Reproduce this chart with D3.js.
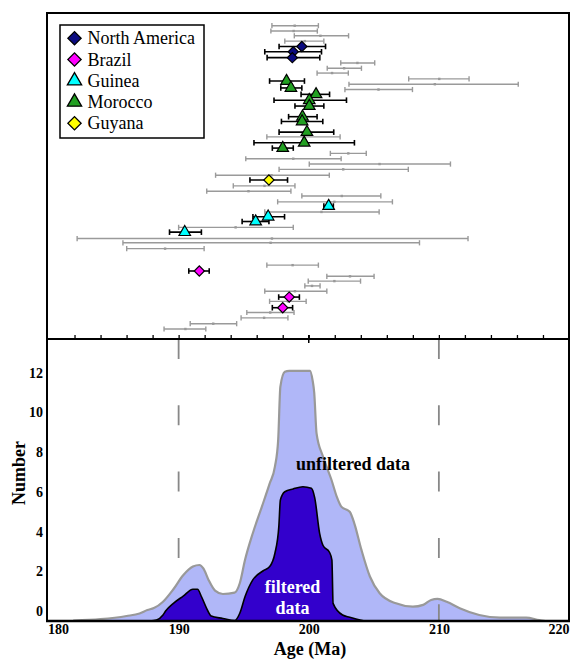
<!DOCTYPE html>
<html><head><meta charset="utf-8">
<script src="https://cdn.jsdelivr.net/npm/d3@7"></script>
<style>
html,body{margin:0;padding:0;background:#fff;}
svg{display:block;}
text{font-family:"Liberation Serif","Times New Roman",serif;}
</style></head>
<body>
<svg id="chart" width="570" height="659"></svg>
<script>
// ---------- DATA ----------
// Top panel: gray (unfiltered) age determinations: [row, low, centre, high] (Ma)
const grayRows = [
  [0,197.17,198.92,200.74],[1,197.09,198.84,200.66],[1.9,198.89,200.9,203.06],[2.9,198.16,199.7,201.16],
  [7,202.46,203.74,205.07],[8,201.42,202.72,204.05],[8.9,200.64,201.79,203.04],[10,207.68,210.03,212.32],
  [11,203.09,209.69,216.1],[12,202.78,205.36,207.97],[20.9,196.78,199.6,202.41],[24,201.66,203.04,204.42],
  [25,195.16,198.81,202.49],[26,200.04,205.44,210.89],[27,197.72,202.65,207.65],[28.1,192.84,197.14,201.58],
  [30.1,194.2,196.6,198.94],[31.1,192.16,195.37,198.63],[32,199.47,202.54,205.54],[33.1,197.61,201.97,206.43],
  [35,196.62,200.98,205.41],[37.9,190.0,194.38,198.81],[40,182.2,197.17,212.24],[40.8,185.72,197.07,208.51],
  [41.9,186.01,188.96,191.96],[45,196.78,198.76,200.74],[47.1,201.39,203.17,205.02],[48,199.96,201.97,203.98],
  [48.9,199.7,200.25,200.87],[49.9,196.62,198.94,201.39],[51.8,196.99,198.4,199.8],[53.9,195.24,197.04,198.87],
  [54.9,194.8,196.57,198.4],[56,190.89,192.66,194.46],[57,188.88,190.52,192.09]
];
// Filtered determinations by region: [row, low, centre, high]
const northAmerica = [[3.9,197.72,199.47,201.29],[4.9,196.62,198.81,200.98],[6.0,196.8,198.74,200.85]];
const morocco = [[10.4,196.99,198.29,199.67],[11.7,197.85,198.63,199.47],[12.9,199.41,200.56,201.6],
  [14.0,197.33,200.04,202.9],[15.1,198.94,200.04,201.16],[17.1,198.45,199.52,200.64],[18.0,197.9,199.49,201.08],
  [20.0,197.72,199.86,201.92],[22.0,195.79,199.65,203.51],[23.0,197.2,198.0,198.81]];
const guyana = [[29.0,195.48,196.94,198.37]];
const guinea = [[33.9,201.16,201.53,201.89],[35.9,195.71,196.88,198.14],[36.8,194.88,195.92,196.94],[38.8,189.3,190.47,191.75]];
const brazil = [[46.1,190.78,191.59,192.35],[51.0,197.69,198.5,199.28],[53.0,197.2,198.0,198.76]];

const legendNames = ["North America","Brazil","Guinea","Morocco","Guyana"];
const legendShapes = ["diamond","diamond","triangle","triangle","diamond"];
const legendColors = ["#0b0b80","#ff00ff","#00ffff","#22a022","#ffff00"];

// Bottom panel: probability curves [age (Ma), number]
const unfilteredAge = [181.9,184.0,186.0,187.0,187.6,188.1,188.8,189.6,190.35,191.1,191.6,191.9,192.3,192.8,193.4,194.3,194.7,195.1,195.7,196.4,197.0,197.4,197.65,197.82,198.16,198.5,200.1,200.3,200.42,200.6,201.1,201.75,202.15,202.5,203.15,203.5,204.05,204.7,205.45,206.7,208.0,208.8,209.4,209.9,210.6,211.6,213.1,214.7,216.7,217.7,218.2];
const unfilteredNum = [-0.48,-0.41,-0.25,-0.12,0.05,0.15,0.47,1.1,1.8,2.24,2.32,2.15,1.57,1.03,0.86,0.93,1.4,2.57,3.92,5.26,6.43,7.27,8.61,11.3,12.05,12.1,12.1,11.6,11.0,8.95,7.77,6.6,5.76,5.26,5.0,4.42,3.08,1.74,0.9,0.39,0.22,0.31,0.56,0.61,0.47,0.14,-0.2,-0.33,-0.33,-0.45,-0.5];
const filteredAge = [187.8,188.3,188.8,189.0,189.6,190.35,191.1,191.45,191.76,192.15,192.5,193.4,194.3,194.7,195.1,195.7,196.5,197.0,197.4,197.7,197.82,198.16,198.8,199.55,200.2,200.46,200.84,201.1,201.6,201.78,201.87,202.6,203.15,204.3];
const filteredNum = [-0.5,-0.45,-0.2,0.0,0.39,0.75,1.1,1.1,0.72,0.14,-0.25,-0.37,-0.48,-0.11,0.72,1.57,2.03,2.24,2.91,4.25,5.59,6.01,6.15,6.26,6.18,5.7,3.9,3.3,2.95,2.57,0.39,-0.2,-0.31,-0.5];

const xTicks = [180,190,200,210,220];
const yTicks = [0,2,4,6,8,10,12];
const refLines = [190,210];
const minorTicks = d3.range(182,219,2);

// ---------- LAYOUT ----------
const svg = d3.select("#chart");
const L = 47, R = 569, topY = 13, midY = 339, botY = 621;
const x = d3.scaleLinear().domain([180,220]).range([48.5,569]);
const yRow = d3.scaleLinear().domain([0,57]).range([25.7,329]);
const y = d3.scaleLinear().domain([-0.5,13.7]).range([botY,midY]);

// ---------- BOTTOM PANEL ----------
const uData = unfilteredAge.map((a,i)=>[a,unfilteredNum[i]]);
const fData = filteredAge.map((a,i)=>[a,filteredNum[i]]);
const area = d3.area().x(d=>x(d[0])).y0(y(-0.5)).y1(d=>y(d[1])).curve(d3.curveMonotoneX);
const line = d3.line().x(d=>x(d[0])).y(d=>y(d[1])).curve(d3.curveMonotoneX);

svg.append("path").attr("d",area(uData)).attr("fill","#b0b7f8");
svg.append("path").attr("d",line(uData)).attr("fill","none").attr("stroke","#999").attr("stroke-width",2.2);

svg.selectAll(".ref").data(refLines).enter().append("line")
  .attr("x1",d=>x(d)).attr("x2",d=>x(d)).attr("y1",midY).attr("y2",botY)
  .attr("stroke","#888").attr("stroke-width",1.8).attr("stroke-dasharray","20,46.3");

svg.append("path").attr("d",area(fData)).attr("fill","#3300cc");
svg.append("path").attr("d",line(fData)).attr("fill","none").attr("stroke","#000").attr("stroke-width",1.6);

svg.append("text").attr("x",353).attr("y",469.5).attr("text-anchor","middle")
  .attr("font-weight","bold").attr("font-size",18).attr("fill","#000").text("unfiltered data");
svg.append("text").attr("x",292.5).attr("y",592.5).attr("text-anchor","middle")
  .attr("font-weight","bold").attr("font-size",18).attr("fill","#fff").text("filtered");
svg.append("text").attr("x",292.5).attr("y",613.5).attr("text-anchor","middle")
  .attr("font-weight","bold").attr("font-size",18).attr("fill","#fff").text("data");

// axes
const yAxis = svg.append("g").attr("transform",`translate(${L},0)`)
  .call(d3.axisLeft(y).tickValues(yTicks).tickSize(0).tickPadding(4));
yAxis.select(".domain").remove();
yAxis.selectAll("text").attr("font-family","Liberation Serif, serif").attr("font-weight","bold").attr("font-size",14).attr("fill","#000");

const xAxis = svg.append("g").attr("transform",`translate(0,${botY})`)
  .call(d3.axisBottom(x).tickValues(xTicks).tickSize(0).tickPadding(2));
xAxis.select(".domain").remove();
xAxis.selectAll("text").attr("font-family","Liberation Serif, serif").attr("font-weight","bold").attr("font-size",14).attr("fill","#000")
  .attr("dy","0.78em")
  .attr("text-anchor",d=>d===180?"start":(d===220?"end":"middle"))
  .attr("dx",d=>d===180?-1:0);

svg.append("text").attr("x",310).attr("y",654.5).attr("text-anchor","middle")
  .attr("font-weight","bold").attr("font-size",18).text("Age (Ma)");
svg.append("text").attr("transform","translate(25,473) rotate(-90)").attr("text-anchor","middle")
  .attr("font-weight","bold").attr("font-size",18).text("Number");

// bottom panel frame
svg.append("line").attr("x1",L).attr("x2",L).attr("y1",midY).attr("y2",botY).attr("stroke","#000").attr("stroke-width",2);
svg.append("line").attr("x1",R).attr("x2",R).attr("y1",midY).attr("y2",botY).attr("stroke","#000").attr("stroke-width",2);
svg.append("line").attr("x1",L-1).attr("x2",R+1).attr("y1",botY).attr("y2",botY).attr("stroke","#000").attr("stroke-width",2.5);

// ---------- TOP PANEL ----------
svg.append("rect").attr("x",L).attr("y",topY).attr("width",R-L).attr("height",midY-topY)
  .attr("fill","none").attr("stroke","#000").attr("stroke-width",2);

const topAxis = svg.append("g").attr("transform",`translate(0,${midY})`)
  .call(d3.axisBottom(x).tickValues(minorTicks).tickSize(-4).tickFormat(""));
topAxis.select(".domain").remove();
topAxis.selectAll("line").attr("stroke","#000").attr("stroke-width",1.3);
svg.append("line").attr("x1",x(200)).attr("x2",x(200)).attr("y1",midY-4).attr("y2",midY+4).attr("stroke","#000").attr("stroke-width",1.5);

function errorBars(data, color, width, cap){
  const g = svg.append("g");
  const rows = g.selectAll("g").data(data).enter().append("g");
  rows.append("line").attr("x1",d=>x(d[1])).attr("x2",d=>x(d[3])).attr("y1",d=>yRow(d[0])).attr("y2",d=>yRow(d[0]))
    .attr("stroke",color).attr("stroke-width",width);
  rows.append("line").attr("x1",d=>x(d[1])).attr("x2",d=>x(d[1])).attr("y1",d=>yRow(d[0])-cap).attr("y2",d=>yRow(d[0])+cap)
    .attr("stroke",color).attr("stroke-width",width);
  rows.append("line").attr("x1",d=>x(d[3])).attr("x2",d=>x(d[3])).attr("y1",d=>yRow(d[0])-cap).attr("y2",d=>yRow(d[0])+cap)
    .attr("stroke",color).attr("stroke-width",width);
  return rows;
}
const gRows = errorBars(grayRows,"#9a9a9a",1.4,2.6);
gRows.append("rect").attr("x",d=>x(d[2])-1.2).attr("y",d=>yRow(d[0])-1.2).attr("width",2.4).attr("height",2.4).attr("fill","#999");

const diamond = d3.symbol().type(d3.symbolSquare);
const triangle = d3.symbol().type(d3.symbolTriangle);
function markers(data, shape, color){
  errorBars(data,"#000",1.6,2.8);
  svg.append("g").selectAll("path").data(data).enter().append("path")
    .attr("d", shape==="diamond" ? diamond.size(52)() : triangle.size(58)())
    .attr("transform",d=>`translate(${x(d[2])},${yRow(d[0])})` + (shape==="diamond"?" rotate(45)":""))
    .attr("fill",color).attr("stroke","#000").attr("stroke-width",1.2);
}
markers(northAmerica,"diamond",legendColors[0]);
markers(morocco,"triangle",legendColors[3]);
markers(guyana,"diamond",legendColors[4]);
markers(guinea,"triangle",legendColors[2]);
markers(brazil,"diamond",legendColors[1]);

// legend
const lg = svg.append("g");
lg.append("rect").attr("x",60).attr("y",25).attr("width",144).attr("height",113)
  .attr("fill","#fff").attr("stroke","#000").attr("stroke-width",1.5);
const legendRowY = d3.scaleLinear().domain([0,4]).range([38.3,123.3]);
legendNames.forEach((name,i)=>{
  const ly = legendRowY(i);
  lg.append("path")
    .attr("d", legendShapes[i]==="diamond" ? diamond.size(88)() : triangle.size(88)())
    .attr("transform",`translate(74.5,${ly})` + (legendShapes[i]==="diamond"?" rotate(45)":""))
    .attr("fill",legendColors[i]).attr("stroke","#000").attr("stroke-width",1.3);
  lg.append("text").attr("x",87.5).attr("y",ly+6).attr("font-size",18).attr("fill","#000").text(name);
});
</script>
</body></html>
